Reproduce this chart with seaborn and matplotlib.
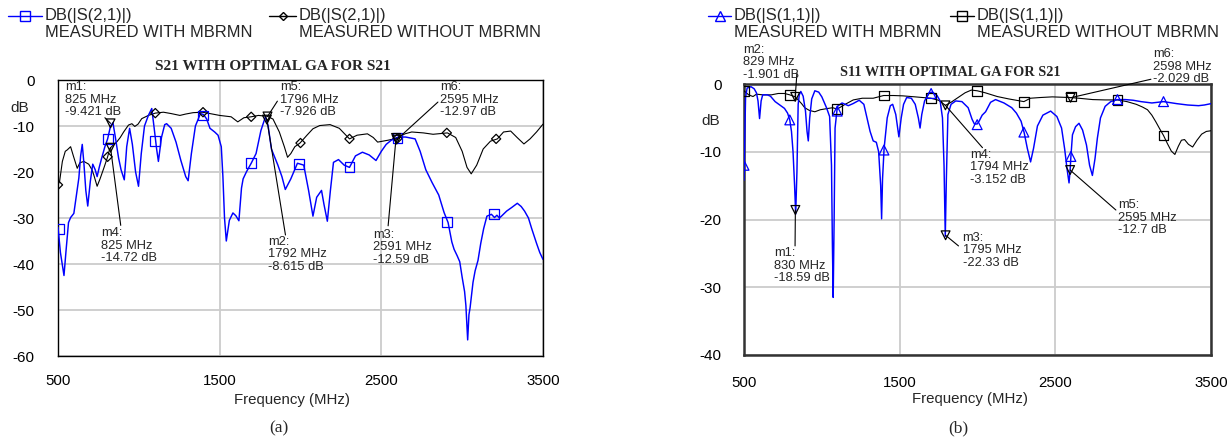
import numpy as np
import pandas as pd
import matplotlib
matplotlib.use("Agg")
import matplotlib.pyplot as plt
import seaborn as sns
from matplotlib.lines import Line2D

# ---------------- data (a): S21 ----------------
s21_with_f = [500, 515, 537, 550, 565, 578, 598, 608, 629, 640, 650, 660, 672, 684, 700, 715, 730, 742,
              755, 770, 790, 807, 825, 840, 855, 875, 890, 910, 925, 943, 960, 980, 998, 1015, 1035, 1059,
              1080, 1095, 1110, 1121, 1140, 1160, 1172, 1200, 1230, 1260, 1290, 1305, 1325, 1350, 1381,
              1400, 1420, 1440, 1469, 1490, 1510, 1520, 1530, 1541, 1560, 1582, 1600, 1619, 1635, 1645,
              1665, 1695, 1725, 1755, 1783, 1800, 1820, 1860, 1885, 1906, 1940, 1981, 2000, 2020, 2050,
              2077, 2100, 2130, 2145, 2166, 2185, 2204, 2235, 2270, 2303, 2340, 2383, 2425, 2467, 2500,
              2530, 2561, 2604, 2650, 2709, 2740, 2775, 2814, 2855, 2888, 2913, 2936, 2950, 2969, 2985,
              3000, 3015, 3023, 3034, 3042, 3049, 3067, 3080, 3098, 3115, 3133, 3153, 3181, 3200, 3215,
              3230, 3243, 3275, 3307, 3341, 3365, 3386, 3410, 3430, 3460, 3480, 3500]
s21_with_db = [-32.0, -37.5, -42.5, -37.0, -31.0, -29.9, -29.0, -26.5, -21.3, -16.5, -14.0, -18.0, -24.0,
               -27.4, -22.0, -18.3, -19.5, -21.0, -19.0, -17.0, -14.5, -12.8, -10.0, -9.3, -12.5, -17.0,
               -19.5, -21.7, -14.5, -10.5, -14.0, -20.0, -23.1, -16.0, -10.0, -7.7, -6.2, -10.5, -15.0,
               -17.7, -12.5, -9.7, -9.5, -10.5, -13.5, -17.5, -21.0, -21.9, -16.0, -10.0, -7.3, -7.5,
               -8.5, -10.5, -11.3, -12.0, -14.5, -21.0, -30.0, -35.0, -30.5, -28.9, -29.5, -30.6, -23.5,
               -21.5, -20.0, -18.1, -16.0, -11.0, -8.0, -10.0, -15.0, -18.5, -21.0, -23.8, -21.5, -18.1,
               -18.3, -18.5, -24.0, -29.6, -25.5, -24.0, -27.0, -30.7, -24.0, -17.9, -17.3, -18.5, -19.0,
               -16.5, -15.7, -16.3, -17.5, -15.5, -14.0, -13.1, -12.4, -12.4, -12.8, -15.5, -19.5, -22.3,
               -25.0, -28.8, -31.0, -35.2, -36.8, -38.2, -39.5, -42.9, -46.0, -49.0, -56.5, -51.0, -49.5,
               -44.0, -41.5, -39.2, -35.5, -32.3, -29.6, -29.2, -29.9, -29.4, -30.0, -29.6, -28.5, -27.7,
               -26.8, -27.5, -28.5, -30.0, -32.3, -35.5, -37.5, -39.0]
s21_with_mk_f = [506, 807, 1102, 1397, 1695, 1990, 2303, 2600, 2905, 3195]
s21_with_mk_db = [-32.4, -12.8, -13.3, -7.7, -18.1, -18.2, -19.0, -12.6, -30.8, -29.2]

s21_wo_f = [500, 510, 527, 545, 557, 578, 595, 619, 635, 660, 690, 710, 721, 742, 760, 785, 807, 820, 840,
            865, 885, 906, 936, 957, 975, 995, 1018, 1059, 1102, 1152, 1200, 1254, 1290, 1336, 1393, 1440,
            1500, 1571, 1612, 1650, 1695, 1740, 1796, 1830, 1869, 1900, 1920, 1940, 1965, 1997, 2040, 2077,
            2119, 2183, 2240, 2303, 2350, 2414, 2450, 2477, 2540, 2593, 2646, 2688, 2760, 2820, 2909, 2960,
            3000, 3030, 3056, 3090, 3130, 3175, 3218, 3256, 3300, 3340, 3382, 3420, 3460, 3500]
s21_wo_db = [-22.8, -22.0, -17.7, -15.5, -15.2, -14.5, -16.5, -19.2, -18.0, -17.7, -18.3, -19.5, -20.6,
             -23.1, -21.5, -19.0, -16.7, -14.9, -14.2, -13.4, -12.5, -11.3, -9.8, -9.5, -10.1, -9.6, -8.4,
             -7.7, -7.2, -7.0, -7.3, -7.7, -7.4, -7.1, -7.0, -7.3, -7.7, -8.0, -9.1, -8.2, -8.0, -7.7, -7.9,
             -8.5, -11.3, -14.5, -16.8, -16.0, -14.5, -13.7, -12.0, -10.6, -9.9, -9.7, -10.5, -12.8, -12.0,
             -11.7, -12.5, -13.5, -13.1, -12.7, -11.7, -11.3, -11.5, -11.8, -11.5, -12.5, -15.5, -19.0,
             -20.4, -18.5, -15.0, -13.3, -12.8, -11.3, -11.1, -12.5, -13.9, -12.8, -11.3, -9.6]
s21_wo_mk_f = [500, 807, 1102, 1397, 1695, 2000, 2303, 2600, 2905, 3210]
s21_wo_mk_db = [-22.8, -16.7, -7.2, -7.0, -8.0, -13.7, -12.8, -12.7, -11.5, -12.8]

s21_markers = ["m1", "m4", "m2", "m5", "m3", "m6"]
s21_marker_f = [825, 825, 1792, 1796, 2591, 2595]
s21_marker_db = [-9.421, -14.72, -8.615, -7.926, -12.59, -12.97]

# ---------------- data (b): S11 ----------------
s11_with_f = [500, 505, 510, 520, 545, 565, 580, 590, 600, 610, 620, 650, 670, 700, 730, 760, 780, 794, 805,
              815, 825, 832, 840, 848, 855, 865, 880, 895, 905, 913, 922, 935, 955, 980, 1000, 1030, 1050,
              1062, 1068, 1073, 1079, 1085, 1100, 1130, 1170, 1200, 1240, 1270, 1285, 1310, 1330, 1350,
              1365, 1378, 1384, 1390, 1400, 1420, 1440, 1455, 1475, 1495, 1510, 1525, 1545, 1575, 1600,
              1620, 1631, 1642, 1660, 1690, 1710, 1740, 1760, 1775, 1785, 1793, 1800, 1810, 1830, 1860,
              1900, 1940, 1965, 1980, 1998, 2010, 2030, 2052, 2084, 2116, 2170, 2220, 2250, 2280, 2300,
              2320, 2341, 2360, 2385, 2420, 2470, 2510, 2540, 2560, 2575, 2588, 2595, 2600, 2610, 2630,
              2652, 2675, 2700, 2720, 2738, 2755, 2770, 2790, 2820, 2856, 2899, 2950, 3000, 3050, 3120,
              3195, 3280, 3350, 3420, 3457, 3500]
s11_with_db = [-14.2, -8.0, -2.0, -0.6, -0.4, -0.7, -1.3, -2.5, -5.1, -2.5, -1.6, -1.6, -1.8, -2.6, -3.1,
               -3.6, -4.3, -5.3, -7.0, -10.0, -15.0, -19.2, -13.0, -3.0, -1.6, -1.1, -1.8, -4.0, -7.0, -8.4,
               -5.0, -2.2, -1.0, -1.2, -1.9, -3.5, -4.8, -12.0, -24.0, -31.5, -20.0, -6.5, -3.3, -2.8, -3.2,
               -2.9, -2.4, -3.0, -4.5, -7.0, -8.4, -8.6, -10.0, -15.0, -19.9, -14.0, -9.5, -5.0, -3.2, -3.0,
               -4.5, -7.8, -5.0, -3.0, -2.0, -2.1, -3.0, -5.0, -6.5, -4.5, -2.5, -1.3, -1.2, -1.7, -2.5,
               -5.0, -12.0, -22.5, -14.0, -4.5, -3.0, -2.5, -2.6, -3.5, -5.2, -5.9, -5.9, -5.5, -4.6, -4.1,
               -2.7, -2.3, -2.8, -3.5, -4.3, -5.5, -7.2, -9.5, -11.5, -9.5, -6.2, -4.6, -4.0, -4.8, -6.5,
               -9.6, -12.5, -14.6, -12.7, -10.7, -7.5, -6.3, -5.8, -6.8, -9.0, -12.0, -13.5, -11.0, -8.0,
               -5.0, -3.3, -2.6, -2.3, -2.3, -2.4, -2.6, -2.8, -2.6, -2.9, -3.1, -3.2, -3.1, -2.9]
s11_with_mk_f = [500, 794, 1099, 1399, 1702, 1998, 2298, 2600, 2899, 3195]
s11_with_mk_db = [-12.0, -5.3, -4.0, -9.75, -1.4, -6.0, -7.1, -10.7, -2.3, -2.6]

s11_wo_f = [500, 515, 530, 558, 580, 620, 676, 720, 760, 794, 829, 850, 870, 890, 920, 955, 990, 1041, 1070,
            1099, 1150, 1202, 1260, 1330, 1397, 1460, 1520, 1600, 1700, 1750, 1794, 1830, 1875, 1920, 1960,
            1998, 2050, 2127, 2200, 2298, 2340, 2400, 2480, 2598, 2650, 2740, 2820, 2899, 2960, 3020, 3060,
            3092, 3120, 3146, 3170, 3195, 3220, 3245, 3268, 3290, 3310, 3330, 3355, 3382, 3410, 3440, 3470,
            3500]
s11_wo_db = [-1.0, -1.3, -1.6, -1.85, -1.5, -1.6, -1.6, -1.4, -1.4, -1.6, -1.9, -2.4, -2.9, -3.5, -3.9,
             -4.1, -3.8, -3.6, -3.5, -3.7, -3.0, -2.35, -2.1, -2.1, -1.7, -1.7, -1.75, -1.9, -2.1, -2.4,
             -3.15, -2.7, -2.0, -1.3, -0.9, -1.0, -1.3, -1.85, -2.2, -2.6, -2.1, -2.0, -1.9, -2.0, -2.1,
             -2.3, -2.35, -2.35, -2.6, -3.0, -3.4, -3.8, -4.6, -5.6, -6.6, -7.6, -8.8, -9.9, -10.4, -9.2,
             -8.3, -8.2, -8.9, -9.3, -8.3, -7.4, -7.0, -6.9]
s11_wo_mk_f = [500, 794, 1099, 1397, 1700, 1998, 2298, 2599, 2899, 3195]
s11_wo_mk_db = [-1.0, -1.6, -3.7, -1.7, -2.1, -1.0, -2.6, -1.85, -2.35, -7.6]

s11_markers = ["m2", "m6", "m4", "m5", "m1", "m3"]
s11_marker_f = [829, 2598, 1794, 2595, 830, 1795]
s11_marker_db = [-1.901, -2.029, -3.152, -12.7, -18.59, -22.33]

x_ticks = [500, 1500, 2500, 3500]
s21_yticks = [0, -10, -20, -30, -40, -50, -60]
s11_yticks = [0, -10, -20, -30, -40]

BLUE = "#0000ff"
BLACK = "#000000"

sns.set_style("white")
plt.rcParams['font.family'] = ['Liberation Sans', 'DejaVu Sans']

W, H = 1230, 442
fig = plt.figure(figsize=(W / 100, H / 100), dpi=100)
axL = fig.add_axes([58 / W, 1 - 356 / H, 485 / W, 276 / H])
axR = fig.add_axes([744 / W, 1 - 355 / H, 467 / W, 271 / H])


def curve(ax, f, db, color, lw):
    sns.lineplot(x=f, y=db, ax=ax, color=color, linewidth=lw, sort=False, estimator=None, zorder=3)


def marks(ax, f, db, color, marker, size):
    sns.scatterplot(x=f, y=db, ax=ax, marker=marker, s=size, facecolor="none",
                    edgecolor=color, linewidth=0.9, zorder=4, legend=False)


def setup(ax, yticks, spine_lw, spine_col, ypad, xpad):
    ax.set_xlim(500, 3500)
    ax.set_ylim(yticks[-1], 0)
    ax.set_xticks(x_ticks)
    ax.set_yticks(yticks)
    ax.set_xticklabels([str(t) for t in x_ticks])
    ax.set_yticklabels([str(t) for t in yticks])
    ax.grid(True, color="#cccccc", linewidth=1.3, zorder=0)
    ax.set_axisbelow(True)
    for s in ax.spines.values():
        s.set_color(spine_col)
        s.set_linewidth(spine_lw)
        s.set_visible(True)
    ax.tick_params(axis="both", length=0, colors="black")
    ax.tick_params(axis="y", pad=ypad, labelsize=11)
    ax.tick_params(axis="x", pad=xpad, labelsize=10.8)
    ax.set_xlabel("Frequency (MHz)", fontsize=10.8)
    ax.set_ylabel("dB", rotation=0, fontsize=11, ha="center", va="center")


# ---- panel (a) ----
curve(axL, s21_wo_f, s21_wo_db, BLACK, 0.8)
curve(axL, s21_with_f, s21_with_db, BLUE, 1.05)
marks(axL, s21_wo_mk_f, s21_wo_mk_db, BLACK, "D", 22)
marks(axL, s21_with_mk_f, s21_with_mk_db, BLUE, "s", 50)
setup(axL, s21_yticks, 1.0, "#000000", 17, 13)
axL.xaxis.set_label_coords(0.483, -0.135)
axL.yaxis.set_label_coords(-0.078, 0.9)

s21_text = [(545, -0.3), (764, -32.0), (1801, -33.9), (1875, -0.3), (2449, -32.4), (2865, -0.3)]
s21_lead = [(790, -8.2), (888, -31.6), (1907, -33.7), (1857, -4.6), (2542, -31.7), (2850, -4.8)]
for name, mf, mdb, (tx, ty), (lx, ly) in zip(s21_markers, s21_marker_f, s21_marker_db, s21_text, s21_lead):
    axL.plot([lx, mf], [ly, mdb], color="black", lw=0.8, zorder=5)
    axL.scatter([mf], [mdb], marker="v", s=40, facecolors="none", edgecolors="black", linewidths=0.9, zorder=6)
    axL.text(tx, ty, f"{name}:\n{mf} MHz\n{mdb:g} dB", ha="left", va="top", fontsize=9.3,
             linespacing=1.05, zorder=7)

# ---- panel (b) ----
curve(axR, s11_wo_f, s11_wo_db, BLACK, 0.8)
curve(axR, s11_with_f, s11_with_db, BLUE, 1.05)
marks(axR, s11_wo_mk_f, s11_wo_mk_db, BLACK, "s", 50)
marks(axR, s11_with_mk_f, s11_with_mk_db, BLUE, "^", 50)
setup(axR, s11_yticks, 1.8, "#333333", 16, 15)
axR.xaxis.set_label_coords(0.485, -0.135)
axR.yaxis.set_label_coords(-0.072, 0.865)

s11_text = [(494, 5.9), (3127, 5.3), (1955, -9.55), (2902, -17.0), (693, -24.1), (1904, -21.85)]
s11_lead = [(840, 1.6), (3114, 0.7), (2032, -9.4), (2889, -18.6), (828, -23.9), (1878, -23.9)]
for name, mf, mdb, (tx, ty), (lx, ly) in zip(s11_markers, s11_marker_f, s11_marker_db, s11_text, s11_lead):
    axR.plot([lx, mf], [ly, mdb], color="black", lw=0.8, zorder=5, clip_on=False)
    axR.scatter([mf], [mdb], marker="v", s=40, facecolors="none", edgecolors="black", linewidths=0.9, zorder=6)
    axR.text(tx, ty, f"{name}:\n{mf} MHz\n{mdb:g} dB", ha="left", va="top", fontsize=9.3,
             linespacing=1.05, zorder=7, clip_on=False)

# ---- titles ----
fig.text(273 / W, 1 - 67 / H, "S21 WITH OPTIMAL GA FOR S21", ha="center", va="center",
         fontsize=11, fontweight="bold", family="Liberation Serif")
fig.text(950 / W, 1 - 72 / H, "S11 WITH OPTIMAL GA FOR S21", ha="center", va="center",
         fontsize=10.3, fontweight="bold", family="Liberation Serif")
fig.text(279 / W, 1 - 428 / H, "(a)", ha="center", va="center", fontsize=12.5, family="Liberation Serif")
fig.text(958 / W, 1 - 428 / H, "(b)", ha="center", va="center", fontsize=12.5, family="Liberation Serif")

# ---- legends ----
legend_items = [
    (8, 42, BLUE, "s", 7, "DB(|S(2,1)|)\nMEASURED WITH MBRMN"),
    (269, 296, BLACK, "D", 4.5, "DB(|S(2,1)|)\nMEASURED WITHOUT MBRMN"),
    (708, 731, BLUE, "^", 7, "DB(|S(1,1)|)\nMEASURED WITH MBRMN"),
    (950, 974, BLACK, "s", 7, "DB(|S(1,1)|)\nMEASURED WITHOUT MBRMN"),
]
for x0, x1, col, mk, ms, lab in legend_items:
    yl = 1 - 16 / H
    fig.add_artist(Line2D([x0 / W, x1 / W], [yl, yl], color=col, lw=1.0, transform=fig.transFigure))
    fig.add_artist(Line2D([(x0 + x1) / 2 / W], [yl], marker=mk, markersize=ms, markerfacecolor="none",
                          markeredgecolor=col, markeredgewidth=1.0, transform=fig.transFigure))
    fig.text((x1 + 3) / W, 1 - 8 / H, lab, ha="left", va="top", fontsize=11.9, linespacing=1.2)

fig.savefig("out.png", dpi=100)
